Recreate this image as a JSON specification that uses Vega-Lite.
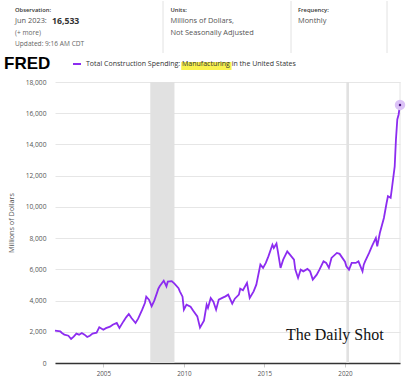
{
  "$schema": "https://vega.github.io/schema/vega-lite/v6.json",
  "background": "white",
  "padding": {"left": 4, "top": 0, "right": 0, "bottom": 0},
  "spacing": 8,
  "config": {
    "font": "Open Sans",
    "view": {"stroke": null},
    "axis": {"labelFont": "Open Sans", "labelColor": "#555", "titleFont": "Open Sans"},
    "axisX": {"grid": false, "domainColor": "#333", "domainWidth": 1.5, "tickColor": "#ccc", "tickSize": 4, "labelFontSize": 6.3, "labelPadding": 3},
    "axisY": {"grid": true, "gridColor": "#e6e6e6", "domain": false, "ticks": false, "labelFontSize": 6.7, "labelPadding": 9, "labelOverlap": false, "titleFontSize": 7.2, "titleFontWeight": "normal", "titleColor": "#555", "titlePadding": 10}
  },
  "datasets": {
    "header": [
      {"col": "Observation", "line": 1, "kind": "heading", "text": "Observation:"},
      {"col": "Observation", "line": 2, "kind": "main", "text": "Jun 2023:"},
      {"col": "Observation", "line": 2, "kind": "value", "text": "16,533"},
      {"col": "Observation", "line": 3, "kind": "note", "text": "(+ more)"},
      {"col": "Observation", "line": 4, "kind": "note", "text": "Updated: 9:16 AM CDT"},
      {"col": "Units", "line": 1, "kind": "heading", "text": "Units:"},
      {"col": "Units", "line": 2, "kind": "main", "text": "Millions of Dollars,"},
      {"col": "Units", "line": 3, "kind": "main", "text": "Not Seasonally Adjusted"},
      {"col": "Frequency", "line": 1, "kind": "heading", "text": "Frequency:"},
      {"col": "Frequency", "line": 2, "kind": "main", "text": "Monthly"}
    ],
    "recessions": [
      {"start": "2007-12-01", "end": "2009-06-01"},
      {"start": "2020-02-01", "end": "2020-04-01"}
    ],
    "series": [
      {"date": "2002-01-01", "value": 2070},
      {"date": "2002-05-01", "value": 2025},
      {"date": "2002-06-01", "value": 1940},
      {"date": "2002-08-01", "value": 1815},
      {"date": "2002-11-01", "value": 1750},
      {"date": "2003-01-01", "value": 1540},
      {"date": "2003-03-01", "value": 1685},
      {"date": "2003-05-01", "value": 1880},
      {"date": "2003-07-01", "value": 1815},
      {"date": "2003-09-01", "value": 1925},
      {"date": "2003-11-01", "value": 1815},
      {"date": "2004-01-01", "value": 1665},
      {"date": "2004-03-01", "value": 1750},
      {"date": "2004-05-01", "value": 1880},
      {"date": "2004-08-01", "value": 1940},
      {"date": "2004-10-01", "value": 2295},
      {"date": "2005-01-01", "value": 2135},
      {"date": "2005-03-01", "value": 2230},
      {"date": "2005-06-01", "value": 2325},
      {"date": "2005-08-01", "value": 2455},
      {"date": "2005-11-01", "value": 2565},
      {"date": "2006-01-01", "value": 2245},
      {"date": "2006-04-01", "value": 2665},
      {"date": "2006-06-01", "value": 2925},
      {"date": "2006-08-01", "value": 3140},
      {"date": "2006-10-01", "value": 2885},
      {"date": "2007-01-01", "value": 2565},
      {"date": "2007-03-01", "value": 2840},
      {"date": "2007-06-01", "value": 3415},
      {"date": "2007-08-01", "value": 3845},
      {"date": "2007-09-01", "value": 4250},
      {"date": "2007-11-01", "value": 4060},
      {"date": "2008-01-01", "value": 3640},
      {"date": "2008-03-01", "value": 3995},
      {"date": "2008-05-01", "value": 4490},
      {"date": "2008-06-01", "value": 4760},
      {"date": "2008-07-01", "value": 4910},
      {"date": "2008-10-01", "value": 5275},
      {"date": "2008-12-01", "value": 4910},
      {"date": "2009-01-01", "value": 5210},
      {"date": "2009-04-01", "value": 5245},
      {"date": "2009-06-01", "value": 5085},
      {"date": "2009-09-01", "value": 4795},
      {"date": "2009-10-01", "value": 4590},
      {"date": "2009-12-01", "value": 4250},
      {"date": "2010-01-01", "value": 3415},
      {"date": "2010-03-01", "value": 3740},
      {"date": "2010-06-01", "value": 3610},
      {"date": "2010-08-01", "value": 3350},
      {"date": "2010-11-01", "value": 2985},
      {"date": "2011-01-01", "value": 2265},
      {"date": "2011-04-01", "value": 2710},
      {"date": "2011-06-01", "value": 3740},
      {"date": "2011-07-01", "value": 3525},
      {"date": "2011-09-01", "value": 4165},
      {"date": "2011-11-01", "value": 3930},
      {"date": "2012-01-01", "value": 3415},
      {"date": "2012-03-01", "value": 4060},
      {"date": "2012-06-01", "value": 4185},
      {"date": "2012-08-01", "value": 4270},
      {"date": "2012-10-01", "value": 4380},
      {"date": "2013-01-01", "value": 3800},
      {"date": "2013-03-01", "value": 4120},
      {"date": "2013-06-01", "value": 4380},
      {"date": "2013-07-01", "value": 4760},
      {"date": "2013-09-01", "value": 4665},
      {"date": "2013-12-01", "value": 5130},
      {"date": "2014-02-01", "value": 4165},
      {"date": "2014-05-01", "value": 4590},
      {"date": "2014-07-01", "value": 5020},
      {"date": "2014-10-01", "value": 6300},
      {"date": "2014-12-01", "value": 6090},
      {"date": "2015-02-01", "value": 6410},
      {"date": "2015-04-01", "value": 6830},
      {"date": "2015-07-01", "value": 7580},
      {"date": "2015-08-01", "value": 7370},
      {"date": "2015-10-01", "value": 7650},
      {"date": "2015-11-01", "value": 7150},
      {"date": "2016-01-01", "value": 6090},
      {"date": "2016-03-01", "value": 6620},
      {"date": "2016-06-01", "value": 7150},
      {"date": "2016-08-01", "value": 6940},
      {"date": "2016-11-01", "value": 6620},
      {"date": "2016-12-01", "value": 5980},
      {"date": "2017-02-01", "value": 5450},
      {"date": "2017-04-01", "value": 5980},
      {"date": "2017-06-01", "value": 5870},
      {"date": "2017-09-01", "value": 6025},
      {"date": "2017-11-01", "value": 5870},
      {"date": "2018-01-01", "value": 5340},
      {"date": "2018-04-01", "value": 5660},
      {"date": "2018-06-01", "value": 5980},
      {"date": "2018-09-01", "value": 6510},
      {"date": "2018-11-01", "value": 6410},
      {"date": "2019-01-01", "value": 6090},
      {"date": "2019-03-01", "value": 6730},
      {"date": "2019-07-01", "value": 7050},
      {"date": "2019-09-01", "value": 6990},
      {"date": "2020-01-01", "value": 6490},
      {"date": "2020-02-01", "value": 6190},
      {"date": "2020-04-01", "value": 5980},
      {"date": "2020-06-01", "value": 6410},
      {"date": "2020-09-01", "value": 6410},
      {"date": "2020-11-01", "value": 6510},
      {"date": "2021-02-01", "value": 5870},
      {"date": "2021-03-01", "value": 6300},
      {"date": "2021-04-01", "value": 6510},
      {"date": "2021-07-01", "value": 7050},
      {"date": "2021-09-01", "value": 7470},
      {"date": "2021-12-01", "value": 8010},
      {"date": "2022-01-01", "value": 7470},
      {"date": "2022-03-01", "value": 8330},
      {"date": "2022-06-01", "value": 9290},
      {"date": "2022-08-01", "value": 10250},
      {"date": "2022-09-01", "value": 10680},
      {"date": "2022-11-01", "value": 10580},
      {"date": "2022-12-01", "value": 11220},
      {"date": "2023-02-01", "value": 12600},
      {"date": "2023-03-01", "value": 14310},
      {"date": "2023-04-01", "value": 15600},
      {"date": "2023-05-01", "value": 15920},
      {"date": "2023-06-01", "value": 16533}
    ]
  },
  "vconcat": [
    {
      "spacing": 0,
      "hconcat": [
        {
          "width": 108, "height": 52,
          "layer": [
            {
              "data": {"name": "header"},
              "transform": [{"filter": "datum.col === 'Observation'"}],
              "encoding": {
                "y": {"field": "line", "type": "ordinal", "scale": {"type": "point", "domain": [1, 2, 3, 4], "padding": 0.85}, "axis": null},
                "x": {"datum": 0, "type": "quantitative", "scale": {"domain": [0, 1]}, "axis": null},
                "text": {"field": "text"}
              },
              "layer": [
                {"transform": [{"filter": "datum.kind === 'heading'"}], "mark": {"type": "text", "align": "left", "dx": -40, "fontSize": 5.8, "fontWeight": 600, "fill": "#333"}},
                {"transform": [{"filter": "datum.kind === 'main'"}], "mark": {"type": "text", "align": "left", "dx": -40, "fontSize": 7.4, "fill": "#555"}},
                {"transform": [{"filter": "datum.kind === 'value'"}], "mark": {"type": "text", "align": "left", "dx": -3, "fontSize": 8.7, "fontWeight": "bold", "fill": "#333"}},
                {"transform": [{"filter": "datum.kind === 'note'"}], "mark": {"type": "text", "align": "left", "dx": -40, "fontSize": 6.6, "fill": "#666"}}
              ]
            },
            {
              "data": {"values": [{}]},
              "mark": {"type": "rule", "color": "#e2e2e2"},
              "encoding": {"x": {"datum": 1, "type": "quantitative"}}
            }
          ]
        },
        {
          "width": 127, "height": 52,
          "layer": [
            {
              "data": {"name": "header"},
              "transform": [{"filter": "datum.col === 'Units'"}],
              "encoding": {
                "y": {"field": "line", "type": "ordinal", "scale": {"type": "point", "domain": [1, 2, 3, 4], "padding": 0.85}, "axis": null},
                "x": {"datum": 0, "type": "quantitative", "scale": {"domain": [0, 1]}, "axis": null},
                "text": {"field": "text"}
              },
              "layer": [
                {"transform": [{"filter": "datum.kind === 'heading'"}], "mark": {"type": "text", "align": "left", "dx": 6.5, "fontSize": 5.8, "fontWeight": 600, "fill": "#333"}},
                {"transform": [{"filter": "datum.kind === 'main'"}], "mark": {"type": "text", "align": "left", "dx": 6.5, "fontSize": 7.4, "fill": "#555"}}
              ]
            },
            {
              "data": {"values": [{}]},
              "mark": {"type": "rule", "color": "#e2e2e2"},
              "encoding": {"x": {"datum": 1, "type": "quantitative"}}
            }
          ]
        },
        {
          "width": 95, "height": 52,
          "layer": [
            {
              "data": {"name": "header"},
              "transform": [{"filter": "datum.col === 'Frequency'"}],
              "encoding": {
                "y": {"field": "line", "type": "ordinal", "scale": {"type": "point", "domain": [1, 2, 3, 4], "padding": 0.85}, "axis": null},
                "x": {"datum": 0, "type": "quantitative", "scale": {"domain": [0, 1]}, "axis": null},
                "text": {"field": "text"}
              },
              "layer": [
                {"transform": [{"filter": "datum.kind === 'heading'"}], "mark": {"type": "text", "align": "left", "dx": 6, "fontSize": 5.8, "fontWeight": 600, "fill": "#333"}},
                {"transform": [{"filter": "datum.kind === 'main'"}], "mark": {"type": "text", "align": "left", "dx": 6, "fontSize": 7.4, "fill": "#555"}}
              ]
            },
            {
              "data": {"values": [{}]},
              "mark": {"type": "rule", "color": "#e2e2e2"},
              "encoding": {"x": {"datum": 1, "type": "quantitative"}}
            }
          ]
        }
      ]
    },
    {
      "width": 345,
      "height": 281,
      "layer": [
        {
          "data": {"name": "recessions"},
          "mark": {"type": "rect", "color": "#e1e1e1"},
          "encoding": {
            "x": {"field": "start", "type": "temporal", "scale": {"domain": [{"year": 2002, "month": 1, "date": 1}, {"year": 2023, "month": 6, "date": 1}], "nice": false},
              "axis": {"values": [{"year": 2005, "month": 1, "date": 1}, {"year": 2010, "month": 1, "date": 1}, {"year": 2015, "month": 1, "date": 1}, {"year": 2020, "month": 1, "date": 1}], "format": "%Y", "title": null}},
            "x2": {"field": "end"}
          }
        },
        {
          "data": {"values": [{}]},
          "mark": {"type": "rule", "color": "#e4e4e4", "strokeWidth": 1},
          "encoding": {
            "x": {"datum": {"year": 2023, "month": 6, "date": 1}, "type": "temporal"}
          }
        },
        {
          "data": {"values": [{}]},
          "mark": {"type": "rect", "color": "#f9f24f"},
          "encoding": {
            "x": {"datum": {"year": 2009, "month": 11, "date": 1}, "type": "temporal"},
            "x2": {"datum": {"year": 2012, "month": 12, "date": 15}},
            "y": {"datum": 19281, "type": "quantitative", "scale": {"domain": [0, 18000], "nice": false},
              "axis": {"tickCount": 9, "format": ",.0f", "title": "Millions of Dollars", "labelOverlap": false}},
            "y2": {"datum": 18769}
          }
        },
        {
          "data": {"name": "series"},
          "mark": {"type": "line", "strokeWidth": 1.8, "color": "#8c2cf0"},
          "encoding": {
            "x": {"field": "date", "type": "temporal"},
            "y": {"field": "value", "type": "quantitative", "scale": {"domain": [0, 18000], "nice": false},
              "axis": {"tickCount": 9, "format": ",.0f", "title": "Millions of Dollars", "labelOverlap": false}},
            "color": {"datum": "Total Construction Spending: Manufacturing in the United States", "scale": {"range": ["#8c2cf0"]},
              "legend": {"orient": "none", "legendX": -51, "legendY": 58, "direction": "horizontal", "title": "FRED", "titleOrient": "left", "titleFont": "Liberation Sans", "titleFontSize": 17, "titleFontWeight": "bold", "titleColor": "#000", "titlePadding": 21, "symbolType": "stroke", "symbolStrokeWidth": 2, "symbolSize": 64, "labelFontSize": 7, "labelColor": "#333", "labelOffset": 4, "labelLimit": 400}}
          }
        },
        {
          "data": {"name": "series"},
          "transform": [{"filter": "datum.value === 16533"}],
          "mark": {"type": "point", "filled": true, "size": 110, "color": "#dcc2f7", "opacity": 1},
          "encoding": {"x": {"field": "date", "type": "temporal"}, "y": {"field": "value", "type": "quantitative"}}
        },
        {
          "data": {"name": "series"},
          "transform": [{"filter": "datum.value === 16533"}],
          "mark": {"type": "point", "filled": true, "size": 6, "color": "#4a1580", "opacity": 1},
          "encoding": {"x": {"field": "date", "type": "temporal"}, "y": {"field": "value", "type": "quantitative"}}
        },
        {
          "data": {"values": [{"label": "The Daily Shot"}]},
          "mark": {"type": "text", "font": "Liberation Serif", "fontSize": 16, "color": "#111"},
          "encoding": {
            "text": {"field": "label"},
            "x": {"datum": {"year": 2019, "month": 5, "date": 15}, "type": "temporal"},
            "y": {"datum": 1814, "type": "quantitative"}
          }
        }
      ]
    }
  ]
}
